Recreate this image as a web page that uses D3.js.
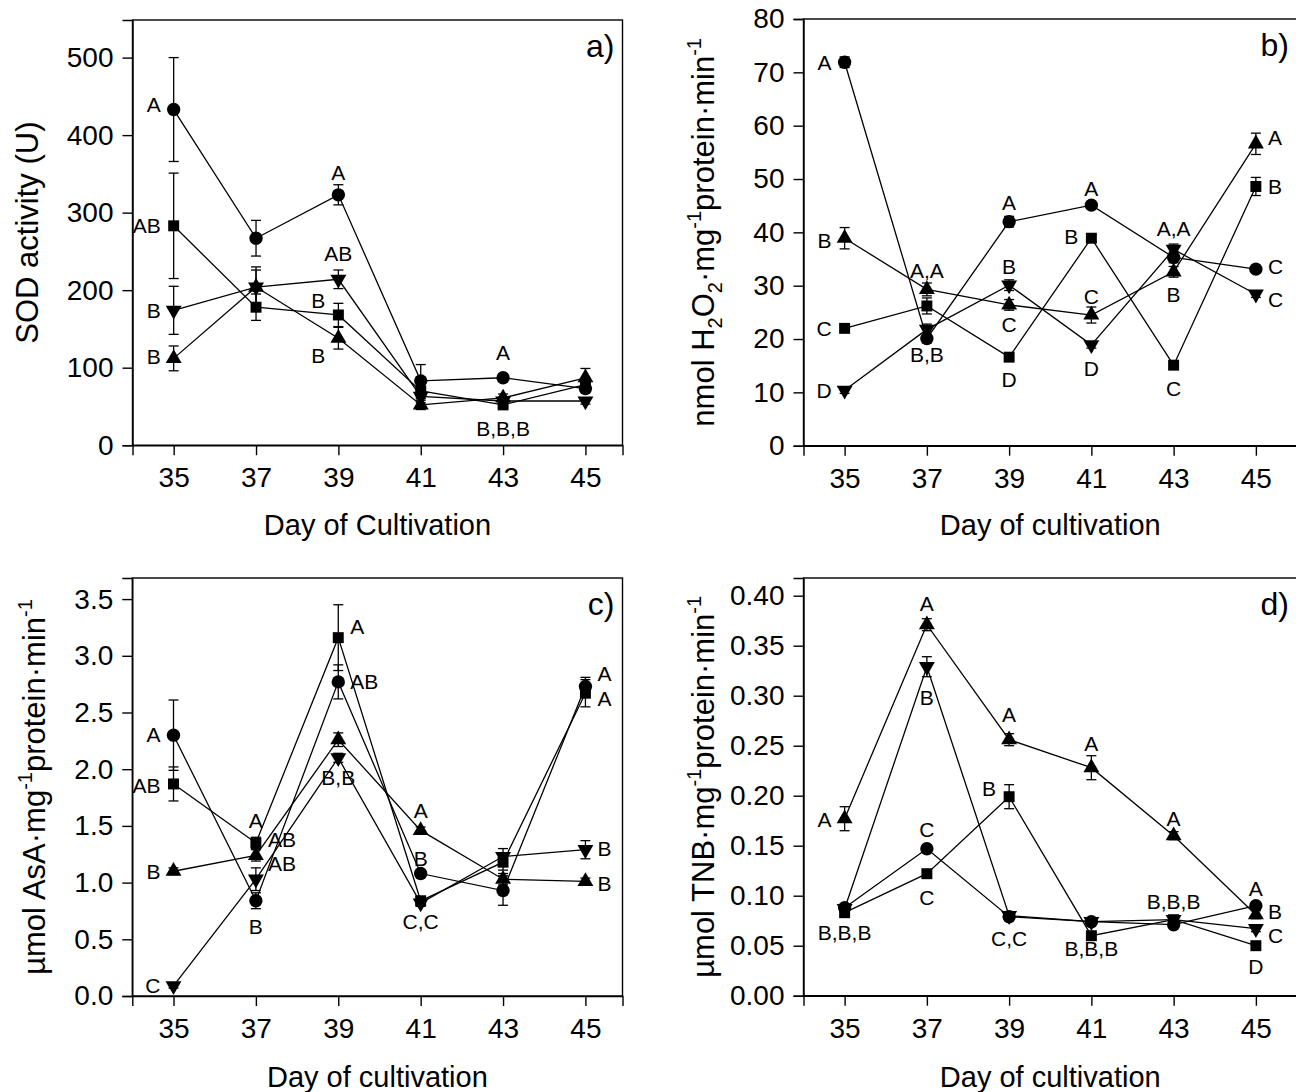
<!DOCTYPE html>
<html>
<head>
<meta charset="utf-8">
<script src="https://cdn.jsdelivr.net/npm/d3@7"></script>
<style>
  body { margin: 0; background: #fff; }
  text { font-family: "Liberation Sans", Arial, sans-serif; fill: #000; }
</style>
</head>
<body>
<script>
/** Declare constants */
const width = 1296;
const height = 1092;
const days = [35, 37, 39, 41, 43, 45];

// a) SOD activity (U)
const sodCircle = [433, 267, 323, 83, 87, 73];
const sodCircleErr = [67, 23, 13, 21, 4, 5];
const sodSquare = [283, 178, 168, 70, 52, 78];
const sodSquareErr = [68, 17, 15, 10, 4, 8];
const sodUp = [112, 204, 138, 52, 61, 87];
const sodUpErr = [16, 22, 14, 6, 5, 12];
const sodDown = [174, 204, 214, 63, 57, 57];
const sodDownErr = [31, 26, 12, 8, 5, 4];
const sodTicks = [0, 100, 200, 300, 400, 500];
const sodLetters = [
    [35, 440, "A", "end"], [35, 284, "AB", "end"], [35, 174, "B", "end"], [35, 114, "B", "end"],
    [39, 352, "A", "middle"], [39, 248, "AB", "middle"], [39, 187, "B", "end"], [39, 116, "B", "end"],
    [43, 120, "A", "middle"], [43, 22, "B,B,B", "middle"]
];

// b) H2O2
const h2o2Circle = [71.9, 20.1, 42.0, 45.1, 35.3, 33.1];
const h2o2CircleErr = [1, 0.8, 1, 0.6, 1, 0.5];
const h2o2Square = [22.0, 26.2, 16.6, 38.9, 15.1, 48.6];
const h2o2SquareErr = [0.5, 1.5, 0.6, 0.6, 0.6, 1.7];
const h2o2Up = [38.9, 29.3, 26.4, 24.5, 32.6, 56.6];
const h2o2UpErr = [2, 1.2, 1, 1.5, 1, 2];
const h2o2Down = [10.4, 21.8, 30.1, 18.9, 36.8, 28.4];
const h2o2DownErr = [0.6, 1, 1, 0.6, 1, 0.6];
const h2o2Ticks = [0, 10, 20, 30, 40, 50, 60, 70, 80];
const h2o2Letters = [
    [35, 71.8, "A", "end"], [35, 38.4, "B", "end"], [35, 21.9, "C", "end"], [35, 10.3, "D", "end"],
    [37, 32.8, "A,A", "middle"], [37, 17.2, "B,B", "middle"],
    [39, 45.6, "A", "middle"], [39, 33.6, "B", "middle"], [39, 22.8, "C", "middle"], [39, 12.4, "D", "middle"],
    [41, 48.3, "A", "middle"], [41, 39.2, "B", "end"], [41, 27.9, "C", "middle"], [41, 14.5, "D", "middle"],
    [43, 40.8, "A,A", "middle"], [43, 28.3, "B", "middle"], [43, 10.8, "C", "middle"],
    [45, 57.8, "A", "start"], [45, 48.6, "B", "start"], [45, 33.7, "C", "start"], [45, 27.5, "C", "start"]
];

// c) AsA
const asaCircle = [2.30, 0.84, 2.77, 1.08, 0.93, 2.73];
const asaCircleErr = [0.31, 0.07, 0.15, 0.03, 0.13, 0.08];
const asaSquare = [1.87, 1.35, 3.16, 0.84, 1.18, 2.67];
const asaSquareErr = [0.15, 0.05, 0.29, 0.03, 0.07, 0.12];
const asaUp = [1.10, 1.24, 2.26, 1.46, 1.03, 1.01];
const asaUpErr = [0.03, 0.05, 0.06, 0.03, 0.05, 0.03];
const asaDown = [0.09, 1.03, 2.10, 0.82, 1.23, 1.29];
const asaDownErr = [0.02, 0.1, 0.04, 0.03, 0.07, 0.08];
const asaTicks = [0, 0.5, 1.0, 1.5, 2.0, 2.5, 3.0, 3.5];
const asaLetters = [
    [35, 2.31, "A", "end"], [35, 1.86, "AB", "end"], [35, 1.10, "B", "end"], [35, 0.09, "C", "end"],
    [37, 1.55, "A", "middle"], [37, 1.38, "AB", "start"], [37, 1.17, "AB", "start"], [37, 0.61, "B", "middle"],
    [39, 3.26, "A", "start"], [39, 2.77, "AB", "start"], [39, 1.93, "B,B", "middle"],
    [41, 1.64, "A", "middle"], [41, 1.21, "B", "middle"], [41, 0.655, "C,C", "middle"],
    [45, 2.84, "A", "start"], [45, 2.62, "A", "start"], [45, 1.30, "B", "start"], [45, 0.99, "B", "start"]
];

// d) TNB
const tnbCircle = [0.088, 0.147, 0.079, 0.074, 0.071, 0.090];
const tnbCircleErr = [0.003, 0.003, 0.003, 0.003, 0.003, 0.003];
const tnbSquare = [0.083, 0.122, 0.199, 0.060, 0.076, 0.050];
const tnbSquareErr = [0.003, 0.003, 0.012, 0.003, 0.004, 0.003];
const tnbUp = [0.177, 0.371, 0.256, 0.228, 0.160, 0.081];
const tnbUpErr = [0.012, 0.006, 0.006, 0.012, 0.004, 0.004];
const tnbDown = [0.087, 0.329, 0.080, 0.074, 0.076, 0.067];
const tnbDownErr = [0.003, 0.010, 0.003, 0.003, 0.004, 0.003];
const tnbTicks = [0, 0.05, 0.10, 0.15, 0.20, 0.25, 0.30, 0.35, 0.40];
const tnbLetters = [
    [35, 0.176, "A", "end"], [35, 0.063, "B,B,B", "middle"],
    [37, 0.392, "A", "middle"], [37, 0.298, "B", "middle"], [37, 0.166, "C", "middle"], [37, 0.098, "C", "middle"],
    [39, 0.281, "A", "middle"], [39, 0.207, "B", "end"], [39, 0.057, "C,C", "middle"],
    [41, 0.252, "A", "middle"], [41, 0.047, "B,B,B", "middle"],
    [43, 0.177, "A", "middle"], [43, 0.094, "B,B,B", "middle"],
    [45, 0.107, "A", "middle"], [45, 0.084, "B", "start"], [45, 0.060, "C", "start"], [45, 0.029, "D", "middle"]
];

var svg;

/** one panel: frame, axes, error bars, lines, markers, letters */
function drawPanel(p) {
    const x_scale = d3.scaleLinear().domain(p.xDomain).range([p.left, p.right]);
    const y_scale = d3.scaleLinear().domain(p.yDomain).range([p.bottom, p.top]);
    const g = svg.append("g");

    // frame
    g.append("rect")
        .attr("x", p.left).attr("y", p.top)
        .attr("width", p.right - p.left).attr("height", p.bottom - p.top)
        .attr("fill", "none").attr("stroke", "#000").attr("stroke-width", 1.4);

    const x_axis = d3.axisBottom(x_scale).tickValues(days).tickSize(10).tickPadding(12).tickFormat(d3.format("d"));
    const y_axis = d3.axisLeft(y_scale).tickValues(p.ticks).tickSize(10).tickPadding(9).tickFormat(d3.format(p.fmt));
    [g.append("g").attr("transform", "translate(0," + p.bottom + ")").call(x_axis),
     g.append("g").attr("transform", "translate(" + p.left + ",0)").call(y_axis)].forEach((ax) => {
        ax.select(".domain").attr("stroke-width", 1.4);
        ax.selectAll(".tick line").attr("stroke-width", 1.4);
        ax.selectAll(".tick text").style("font-size", "28px").attr("fill", "#000");
    });

    // axis titles
    g.append("text")
        .attr("x", (p.left + p.right) / 2)
        .attr("y", p.xTitleY)
        .attr("text-anchor", "middle")
        .style("font-size", "29px")
        .text(p.xTitle);
    const yt = g.append("text")
        .attr("transform", "translate(" + p.yTitleX + "," + (p.top + p.bottom) / 2 + ") rotate(-90)")
        .attr("text-anchor", "middle")
        .style("font-size", "31px");
    p.yTitle.forEach((part) => {
        const t = yt.append("tspan").text(part[0]);
        if (part[1] === "sub") {
            t.attr("dy", 8).style("font-size", "20px");
        } else if (part[1] === "sup") {
            t.attr("dy", -13).style("font-size", "20px");
        } else if (part[1] === "back-sub") {
            t.attr("dy", -8);
        } else if (part[1] === "back-sup") {
            t.attr("dy", 13);
        }
    });

    // panel letter
    g.append("text")
        .attr("x", p.right - 8)
        .attr("y", p.top + 37)
        .attr("text-anchor", "end")
        .style("font-size", "32px")
        .text(p.tag);

    const line = d3.line().x((d) => x_scale(d[0])).y((d) => y_scale(d[1]));
    const shapes = [
        { type: d3.symbolCircle, size: 140, rot: 0 },
        { type: d3.symbolSquare, size: 120, rot: 0 },
        { type: d3.symbolTriangle, size: 110, rot: 0 },
        { type: d3.symbolTriangle, size: 110, rot: 180 }
    ];

    p.series.forEach((s, i) => {
        const pts = days.map((d, k) => [d, s.values[k], s.err[k]]);
        // error bars
        const eb = g.append("g").attr("stroke", "#000").attr("stroke-width", 1.3);
        pts.forEach((d) => {
            const cx = x_scale(d[0]);
            const y1 = y_scale(d[1] + d[2]);
            const y2 = y_scale(d[1] - d[2]);
            eb.append("line").attr("x1", cx).attr("x2", cx).attr("y1", y1).attr("y2", y2);
            eb.append("line").attr("x1", cx - 5).attr("x2", cx + 5).attr("y1", y1).attr("y2", y1);
            eb.append("line").attr("x1", cx - 5).attr("x2", cx + 5).attr("y1", y2).attr("y2", y2);
        });
        g.append("path")
            .datum(pts)
            .attr("fill", "none")
            .attr("stroke", "#000")
            .attr("stroke-width", 1.3)
            .attr("d", line);
        g.selectAll(null)
            .data(pts)
            .enter()
            .append("path")
            .attr("d", d3.symbol().type(shapes[i].type).size(shapes[i].size))
            .attr("transform", (d) => "translate(" + x_scale(d[0]) + "," + y_scale(d[1]) + ") rotate(" + shapes[i].rot + ")")
            .attr("fill", "#000");
    });

    // significance letters
    g.selectAll(null)
        .data(p.letters)
        .enter()
        .append("text")
        .attr("x", (d) => x_scale(d[0]) + (d[3] === "end" ? -13 : d[3] === "start" ? 12 : 0))
        .attr("y", (d) => y_scale(d[1]))
        .attr("dy", "0.36em")
        .attr("text-anchor", (d) => d[3])
        .style("font-size", "21px")
        .text((d) => d[2]);
}

document.addEventListener("DOMContentLoaded", function () {
    svg = d3.select("body")
        .append("svg")
        .attr("width", width)
        .attr("height", height);

    const unitTail = [["·mg"], ["-1", "sup"], ["protein·min", "back-sup"], ["-1", "sup"]];

    drawPanel({
        left: 132.5, right: 622.5, top: 20, bottom: 445.2,
        xDomain: [34, 45.9], yDomain: [0, 548.5], ticks: sodTicks, fmt: "d",
        xTitle: "Day of Cultivation", xTitleY: 535, yTitleX: 38,
        yTitle: [["SOD activity (U)"]], tag: "a)", letters: sodLetters,
        series: [
            { values: sodCircle, err: sodCircleErr }, { values: sodSquare, err: sodSquareErr },
            { values: sodUp, err: sodUpErr }, { values: sodDown, err: sodDownErr }]
    });
    drawPanel({
        left: 803.5, right: 1297, top: 19, bottom: 445.7,
        xDomain: [34, 46], yDomain: [0, 80], ticks: h2o2Ticks, fmt: "d",
        xTitle: "Day of cultivation", xTitleY: 535, yTitleX: 714,
        yTitle: [["nmol H"], ["2", "sub"], ["O", "back-sub"], ["2", "sub"], ["·mg", "back-sub"], ["-1", "sup"], ["protein·min", "back-sup"], ["-1", "sup"]],
        tag: "b)", letters: h2o2Letters,
        series: [
            { values: h2o2Circle, err: h2o2CircleErr }, { values: h2o2Square, err: h2o2SquareErr },
            { values: h2o2Up, err: h2o2UpErr }, { values: h2o2Down, err: h2o2DownErr }]
    });
    drawPanel({
        left: 132.3, right: 622.5, top: 578, bottom: 996,
        xDomain: [34, 45.9], yDomain: [0, 3.686], ticks: asaTicks, fmt: ".1f",
        xTitle: "Day of cultivation", xTitleY: 1087, yTitleX: 45,
        yTitle: [["µmol AsA"]].concat(unitTail), tag: "c)", letters: asaLetters,
        series: [
            { values: asaCircle, err: asaCircleErr }, { values: asaSquare, err: asaSquareErr },
            { values: asaUp, err: asaUpErr }, { values: asaDown, err: asaDownErr }]
    });
    drawPanel({
        left: 803.5, right: 1297, top: 578, bottom: 995.7,
        xDomain: [34, 46], yDomain: [0, 0.4177], ticks: tnbTicks, fmt: ".2f",
        xTitle: "Day of cultivation", xTitleY: 1087, yTitleX: 714,
        yTitle: [["µmol TNB"]].concat(unitTail), tag: "d)", letters: tnbLetters,
        series: [
            { values: tnbCircle, err: tnbCircleErr }, { values: tnbSquare, err: tnbSquareErr },
            { values: tnbUp, err: tnbUpErr }, { values: tnbDown, err: tnbDownErr }]
    });
});
</script>
</body>
</html>
